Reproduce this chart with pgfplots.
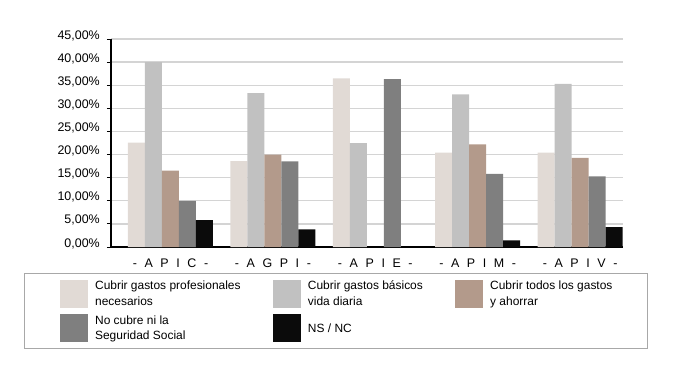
\documentclass[border=0pt]{standalone}
\usepackage{pgfplots}
\pgfplotsset{compat=1.18}
\usepackage{fontspec}
\setmainfont{Liberation Sans}
\definecolor{cA}{HTML}{E1DAD5}
\definecolor{cB}{HTML}{C1C1C1}
\definecolor{cC}{HTML}{B39A8B}
\definecolor{cD}{HTML}{7F7F7F}
\definecolor{cE}{HTML}{0B0B0B}
\definecolor{gridgray}{HTML}{D4D4D4}
\definecolor{boxgray}{HTML}{A8A8A8}
\newcommand\g{\hspace{7.6bp}}
\begin{document}
\begin{tikzpicture}
\path[use as bounding box] (-111bp,-119bp) rectangle (573bp,247bp);
\begin{axis}[
  at={(0,0)}, anchor=south west,
  scale only axis, width=512bp, height=208bp,
  xmin=-0.581, xmax=4.419, ymin=0, ymax=45,
  ybar=0pt, bar width=17bp,
  axis x line*=bottom, axis y line*=left,
  x axis line style={black, line width=1.1bp, -},
  y axis line style={black, line width=1.6bp, -},
  xtick={0,1,2,3,4},
  xticklabels={{-\g A\g P\g I\g C\g -},{-\g A\g G\g P\g I\g -},{-\g A\g P\g I\g E\g -},{-\g A\g P\g I\g M\g -},{-\g A\g P\g I\g V\g -}},
  xtick style={draw=none},
  ytick={0,5,...,45},
  yticklabels={{0,00\%},{5,00\%},{10,00\%},{15,00\%},{20,00\%},{25,00\%},{30,00\%},{35,00\%},{40,00\%},{45,00\%}},
  tick align=outside, major tick length=4bp,
  ytick style={black, line width=1bp},
  ticklabel style={font=\fontsize{12.5}{14}\selectfont},
  xticklabel style={anchor=base, yshift=-16.3bp},
  yticklabel style={anchor=base east, inner sep=0pt, xshift=-7bp},
  ymajorgrids, grid style={color=gridgray, line width=1.3bp},
  legend style={at={(-0.1693,-0.1264)}, anchor=north west,
    draw=boxgray, line width=1bp, inner xsep=35bp, inner ysep=6bp,
    font=\fontsize{12}{15.7}\selectfont,
    nodes={inner sep=0pt},
    cells={align=left},
    row sep=6.7bp,
    /tikz/every odd column/.append style={column sep=7.3bp},
    /tikz/every even column/.append style={column sep=32bp}},
  legend cell align=left,
  legend columns=3,
  legend image code/.code={\path[#1, draw=none] (0bp,-14bp) rectangle (28bp,14bp);},
]
\addplot[fill=cA, draw=none] coordinates {(0,22.6) (1,18.6) (2,36.5) (3,20.4) (4,20.4)};
\addlegendentry{Cubrir gastos profesionales\\necesarios}
\addplot[fill=cB, draw=none] coordinates {(0,40.0) (1,33.3) (2,22.5) (3,33.0) (4,35.3)};
\addlegendentry{Cubrir gastos básicos\\vida diaria}
\addplot[fill=cC, draw=none] coordinates {(0,16.5) (1,20.0) (3,22.2) (4,19.3)};
\addlegendentry{Cubrir todos los gastos\\y ahorrar}
\addplot[fill=cD, draw=none] coordinates {(0,10.0) (1,18.5) (2,36.3) (3,15.8) (4,15.3)};
\addlegendentry{No cubre ni la\\Seguridad Social}
\addplot[fill=cE, draw=none] coordinates {(0,5.8) (1,3.8) (3,1.45) (4,4.3)};
\addlegendentry{NS / NC}
\end{axis}
\end{tikzpicture}
\end{document}
